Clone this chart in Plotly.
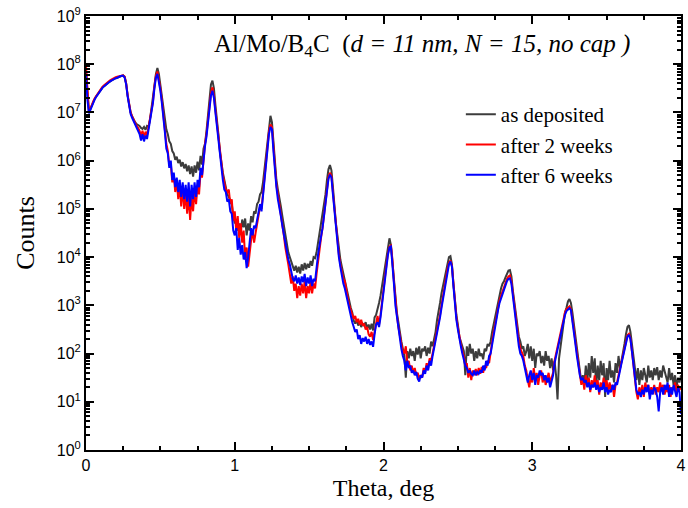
import plotly.graph_objects as go

# Grazing angle theta (deg), sampled every 0.01 deg from 0 to 4
theta = [round(i * 0.01, 2) for i in range(401)]

# log10(counts), one row per 0.1 deg
log_as_deposited = [
    7.85, 7.30, 7.00, 7.08, 7.16, 7.23, 7.29, 7.34, 7.39, 7.44,
    7.48, 7.51, 7.54, 7.57, 7.59, 7.62, 7.64, 7.66, 7.68, 7.69,
    7.71, 7.72, 7.73, 7.74, 7.76, 7.77, 7.74, 7.60, 7.35, 7.12,
    7.00, 6.92, 6.85, 6.80, 6.76, 6.74, 6.72, 6.68, 6.66, 6.70,
    6.64, 6.72, 6.70, 6.85, 7.05, 7.25, 7.55, 7.80, 7.92, 7.80,
    7.55, 7.30, 7.05, 6.85, 6.65, 6.55, 6.40, 6.35, 6.20, 6.15,
    6.02, 6.08, 5.95, 6.02, 5.88, 5.97, 5.84, 5.93, 5.78, 5.90,
    5.72, 5.88, 5.67, 5.90, 5.75, 5.98, 5.80, 6.10, 5.92, 6.25,
    6.35, 6.62, 6.95, 7.30, 7.58, 7.66, 7.50, 7.15, 6.90, 6.55,
    6.20, 5.95, 5.75, 5.60, 5.45, 5.30, 5.25, 5.15, 5.10, 4.85,
    4.70, 4.75, 4.55, 4.70, 4.50, 4.78, 4.62, 4.80, 4.45, 4.70,
    4.55, 4.85, 4.72, 4.95, 4.90, 5.10, 5.15, 5.30, 5.35, 5.55,
    5.85, 6.10, 6.45, 6.75, 6.93, 6.80, 6.35, 5.85, 5.60, 5.40,
    5.25, 5.05, 4.85, 4.65, 4.40, 4.25, 4.10, 4.00, 3.90, 3.78,
    3.72, 3.82, 3.68, 3.80, 3.66, 3.85, 3.72, 3.88, 3.75, 3.86,
    3.78, 3.92, 3.82, 4.00, 3.98, 4.10, 4.30, 4.45, 4.65, 4.85,
    5.05, 5.30, 5.60, 5.82, 5.91, 5.80, 5.45, 5.05, 4.70, 4.45,
    4.15, 3.95, 3.80, 3.65, 3.50, 3.40, 3.20, 3.05, 2.95, 2.85,
    2.68, 2.62, 2.70, 2.58, 2.66, 2.55, 2.62, 2.58, 2.65, 2.52,
    2.60, 2.50, 2.62, 2.48, 2.75, 2.80, 2.90, 3.05, 3.20, 3.40,
    3.60, 3.72, 3.95, 4.20, 4.39, 4.25, 3.85, 3.45, 3.10, 2.85,
    2.65, 2.40, 2.25, 2.10, 1.95, 1.50, 2.05, 1.90, 2.10, 1.95,
    2.05, 1.85, 2.12, 1.98, 2.15, 1.90, 2.10, 2.05, 2.15, 1.95,
    2.12, 2.00, 2.25, 2.15, 2.30, 2.45, 2.70, 2.85, 3.05, 3.25,
    3.40, 3.50, 3.65, 3.85, 4.00, 4.02, 3.85, 3.45, 3.05, 2.80,
    2.60, 2.35, 2.25, 2.15, 2.05, 1.55, 2.15, 1.95, 2.20, 2.00,
    2.10, 1.85, 2.05, 1.90, 2.10, 1.95, 2.00, 1.88, 2.10, 2.05,
    2.20, 2.15, 2.25, 2.45, 2.60, 2.80, 2.95, 3.10, 3.25, 3.35,
    3.45, 3.50, 3.58, 3.65, 3.72, 3.73, 3.60, 3.30, 3.05, 2.90,
    2.60, 2.35, 2.25, 2.10, 2.15, 1.95, 2.05, 2.20, 1.90, 2.15,
    1.85, 2.10, 1.70, 2.00, 1.95, 2.05, 1.80, 1.95, 1.75, 2.05,
    1.85, 1.95, 1.70, 1.90, 1.65, 1.85, 1.55, 1.05, 1.90, 2.15,
    2.45, 2.70, 2.85, 2.95, 3.08, 3.13, 3.05, 2.85, 2.60, 2.30,
    2.05, 1.80, 1.60, 1.40, 1.55, 1.35, 1.75, 1.40, 1.80, 1.50,
    1.95, 1.60, 1.90, 1.30, 1.75, 1.45, 1.85, 1.55, 1.80, 1.10,
    1.70, 1.45, 1.85, 1.50, 1.65, 1.40, 1.80, 1.60, 1.95, 1.70,
    1.85, 2.00, 2.20, 2.40, 2.55, 2.59, 2.45, 2.20, 1.90, 1.65,
    1.45, 1.70, 1.35, 1.65, 1.45, 1.70, 1.50, 1.40, 1.75, 1.50,
    1.65, 1.45, 1.70, 1.55, 1.72, 1.45, 1.65, 1.50, 1.75, 1.65,
    1.55, 1.40, 1.70, 1.45, 1.60, 1.35, 1.55, 1.30, 1.50, 1.40,
    1.55,
]

log_after_2_weeks = [
    7.95, 7.35, 7.00, 7.08, 7.17, 7.24, 7.30, 7.35, 7.40, 7.45,
    7.49, 7.53, 7.56, 7.59, 7.61, 7.64, 7.66, 7.68, 7.70, 7.71,
    7.73, 7.74, 7.75, 7.76, 7.77, 7.77, 7.74, 7.60, 7.36, 7.13,
    7.00, 6.92, 6.85, 6.78, 6.72, 6.68, 6.62, 6.52, 6.62, 6.48,
    6.60, 6.52, 6.70, 6.80, 7.02, 7.22, 7.55, 7.76, 7.85, 7.70,
    7.50, 7.25, 7.00, 6.65, 6.35, 6.20, 5.90, 5.95, 5.55, 5.70,
    5.35, 5.60, 5.20, 5.50, 5.05, 5.45, 5.00, 5.35, 4.90, 5.30,
    4.77, 5.25, 4.95, 5.40, 5.10, 5.50, 5.30, 5.75, 5.65, 6.10,
    6.35, 6.55, 6.80, 7.10, 7.40, 7.52, 7.35, 7.05, 6.75, 6.45,
    6.15, 5.85, 5.70, 5.55, 5.40, 5.35, 5.40, 5.10, 5.20, 4.75,
    4.95, 4.55, 4.85, 4.40, 4.70, 4.30, 4.55, 3.95, 4.20, 3.80,
    4.15, 4.35, 4.55, 4.30, 4.50, 4.70, 4.85, 5.05, 5.00, 5.30,
    5.65, 6.00, 6.35, 6.60, 6.75, 6.70, 6.30, 5.80, 5.50, 5.30,
    5.10, 4.95, 4.70, 4.45, 4.20, 4.05, 3.85, 3.65, 3.45, 3.60,
    3.30, 3.45, 3.15, 3.40, 3.20, 3.45, 3.25, 3.50, 3.15, 3.40,
    3.25, 3.50, 3.25, 3.45, 3.35, 3.65, 3.95, 4.20, 4.40, 4.60,
    4.85, 5.15, 5.45, 5.66, 5.75, 5.68, 5.35, 5.00, 4.60, 4.35,
    4.05, 3.85, 3.70, 3.55, 3.50, 3.30, 3.15, 3.00, 2.90, 2.80,
    2.72, 2.78, 2.65, 2.72, 2.60, 2.70, 2.58, 2.62, 2.50, 2.55,
    2.40, 2.35, 2.45, 2.28, 2.50, 2.62, 2.78, 2.60, 2.80, 3.10,
    3.35, 3.60, 3.85, 4.08, 4.22, 4.24, 3.95, 3.50, 3.10, 2.80,
    2.55, 2.35, 2.20, 2.05, 2.00, 2.15, 1.80, 1.85, 1.65, 1.75,
    1.60, 1.70, 1.55, 1.60, 1.48, 1.55, 1.50, 1.70, 1.62, 1.80,
    1.70, 1.90, 1.85, 2.00, 2.15, 2.35, 2.50, 2.65, 2.80, 3.00,
    3.20, 3.40, 3.58, 3.75, 3.88, 3.93, 3.82, 3.45, 3.00, 2.75,
    2.55, 2.35, 2.20, 2.05, 1.95, 1.75, 1.80, 1.50, 1.70, 1.45,
    1.65, 1.55, 1.68, 1.55, 1.70, 1.58, 1.72, 1.60, 1.75, 1.70,
    1.85, 1.80, 2.05, 2.25, 2.45, 2.60, 2.80, 2.95, 3.10, 3.20,
    3.30, 3.40, 3.47, 3.55, 3.60, 3.62, 3.50, 3.25, 2.95, 2.65,
    2.40, 2.25, 2.10, 2.00, 1.95, 1.75, 1.65, 1.45, 1.30, 1.55,
    1.40, 1.70, 1.45, 1.60, 1.35, 1.55, 1.65, 1.40, 1.55, 1.35,
    1.50, 1.60, 1.40, 1.50, 1.60, 1.85, 2.00, 2.15, 2.30, 2.45,
    2.60, 2.75, 2.85, 2.92, 2.96, 2.98, 2.92, 2.75, 2.50, 2.25,
    2.00, 1.75, 1.55, 1.35, 1.50, 1.25, 1.55, 1.35, 1.50, 1.20,
    1.45, 1.30, 1.55, 1.30, 1.45, 1.15, 1.40, 1.25, 1.50, 1.30,
    1.45, 1.20, 1.40, 1.25, 1.35, 1.10, 1.35, 1.40, 1.55, 1.70,
    1.85, 2.00, 2.15, 2.28, 2.38, 2.41, 2.32, 2.05, 1.75, 1.45,
    1.20, 1.05, 1.30, 1.15, 1.35, 1.10, 1.40, 1.25, 1.35, 1.15,
    1.30, 1.20, 1.35, 1.15, 1.30, 1.20, 1.40, 1.25, 1.35, 1.15,
    1.30, 1.20, 1.35, 1.10, 1.30, 1.25, 1.40, 1.20, 1.35, 1.25,
    1.30,
]

log_after_6_weeks = [
    7.80, 7.25, 6.98, 7.06, 7.15, 7.22, 7.28, 7.33, 7.38, 7.43,
    7.47, 7.51, 7.54, 7.57, 7.60, 7.62, 7.64, 7.66, 7.68, 7.70,
    7.71, 7.72, 7.74, 7.75, 7.76, 7.76, 7.72, 7.58, 7.33, 7.10,
    6.97, 6.89, 6.82, 6.76, 6.70, 6.64, 6.55, 6.42, 6.55, 6.40,
    6.52, 6.45, 6.65, 6.75, 7.00, 7.20, 7.50, 7.72, 7.80, 7.65,
    7.45, 7.20, 6.95, 6.60, 6.25, 6.15, 5.85, 6.00, 5.60, 5.75,
    5.45, 5.65, 5.35, 5.60, 5.25, 5.55, 5.20, 5.50, 5.15, 5.55,
    5.05, 5.50, 5.20, 5.55, 5.25, 5.60, 5.45, 5.85, 5.70, 6.10,
    6.30, 6.50, 6.75, 7.05, 7.35, 7.45, 7.30, 7.00, 6.70, 6.35,
    6.05, 5.75, 5.60, 5.40, 5.35, 5.15, 5.20, 4.95, 4.90, 4.55,
    4.45, 4.60, 4.15, 4.40, 4.05, 4.25, 3.95, 4.10, 3.77, 4.00,
    4.25, 4.60, 4.45, 4.65, 4.60, 4.75, 4.90, 5.10, 4.95, 5.25,
    5.60, 5.95, 6.30, 6.55, 6.70, 6.65, 6.20, 5.70, 5.45, 5.20,
    5.05, 4.85, 4.65, 4.45, 4.25, 4.10, 3.95, 3.85, 3.70, 3.55,
    3.50, 3.62, 3.45, 3.58, 3.42, 3.60, 3.48, 3.65, 3.40, 3.58,
    3.45, 3.62, 3.40, 3.55, 3.50, 3.80, 4.05, 4.25, 4.40, 4.60,
    4.85, 5.10, 5.40, 5.62, 5.71, 5.65, 5.30, 4.95, 4.55, 4.30,
    4.00, 3.80, 3.60, 3.45, 3.35, 3.20, 3.05, 2.90, 2.80, 2.65,
    2.55, 2.45, 2.50, 2.30, 2.38, 2.20, 2.32, 2.25, 2.35, 2.20,
    2.30, 2.18, 2.25, 2.14, 2.40, 2.60, 2.65, 2.55, 2.75, 3.05,
    3.30, 3.55, 3.80, 4.05, 4.20, 4.22, 3.90, 3.45, 3.00, 2.75,
    2.50, 2.30, 2.10, 1.95, 1.85, 1.65, 1.85, 1.70, 1.75, 1.60,
    1.65, 1.55, 1.62, 1.48, 1.42, 1.55, 1.50, 1.65, 1.58, 1.75,
    1.65, 1.85, 1.75, 1.95, 2.10, 2.30, 2.45, 2.60, 2.75, 2.95,
    3.15, 3.35, 3.55, 3.72, 3.85, 3.91, 3.80, 3.40, 2.95, 2.70,
    2.50, 2.30, 2.15, 2.00, 1.85, 1.75, 1.70, 1.60, 1.65, 1.58,
    1.55, 1.65, 1.55, 1.62, 1.58, 1.65, 1.60, 1.75, 1.65, 1.85,
    1.75, 1.95, 2.00, 2.20, 2.40, 2.55, 2.75, 2.90, 3.05, 3.15,
    3.25, 3.35, 3.42, 3.50, 3.55, 3.56, 3.45, 3.20, 2.90, 2.60,
    2.35, 2.15, 2.00, 1.95, 1.85, 1.70, 1.55, 1.40, 1.55, 1.65,
    1.45, 1.60, 1.35, 1.55, 1.50, 1.65, 1.55, 1.60, 1.45, 1.55,
    1.40, 1.50, 1.30, 1.45, 1.55, 1.80, 1.95, 2.10, 2.25, 2.40,
    2.55, 2.70, 2.80, 2.88, 2.92, 2.94, 2.90, 2.70, 2.45, 2.20,
    1.95, 1.70, 1.55, 1.45, 1.50, 1.40, 1.45, 1.30, 1.40, 1.25,
    1.35, 1.30, 1.40, 1.25, 1.35, 1.20, 1.30, 1.25, 1.40, 1.20,
    1.30, 1.15, 1.25, 1.20, 1.35, 1.25, 1.40, 1.35, 1.55, 1.65,
    1.80, 1.95, 2.10, 2.25, 2.35, 2.39, 2.30, 2.05, 1.75, 1.45,
    1.25, 1.15, 1.20, 1.10, 1.25, 1.15, 1.30, 1.20, 1.35, 1.05,
    1.25, 1.15, 1.30, 1.25, 1.10, 0.80, 1.20, 1.30, 1.15, 1.35,
    1.25, 1.40, 1.10, 1.30, 1.15, 1.35, 1.25, 1.10, 1.30, 1.20,
    0.75,
]

series_names = ["as deposited", "after 2 weeks", "after 6 weeks"]
series_colors = ["#3c3c3c", "#ff0000", "#0000ff"]
y_decades = list(range(0, 10))
y_tick_labels = ["10<sup>%d</sup>" % k for k in y_decades]

series_logs = [log_as_deposited, log_after_2_weeks, log_after_6_weeks]

fig = go.Figure()
for name, logs, color in zip(series_names, series_logs, series_colors):
    fig.add_trace(go.Scatter(
        x=theta, y=[10 ** v for v in logs], mode="lines", name=name,
        line=dict(color=color, width=2),
    ))

serif = "Liberation Serif"
sans = "Liberation Sans"

fig.update_layout(
    width=688, height=508,
    margin=dict(l=86, r=2, t=16, b=58),
    plot_bgcolor="white", paper_bgcolor="white",
    font=dict(family=sans, size=16, color="black"),
    showlegend=True,
    legend=dict(
        x=0.63, y=0.82, xanchor="left", yanchor="top",
        font=dict(family=serif, size=21, color="black"),
        bgcolor="rgba(0,0,0,0)", borderwidth=0,
    ),
    annotations=[dict(
        x=0.212, y=0.933, xref="paper", yref="paper",
        xanchor="left", yanchor="middle", showarrow=False,
        text="Al/Mo/B<sub>4</sub>C  (<i>d = 11 nm, N = 15, no cap )</i>",
        font=dict(family=serif, size=25, color="black"),
    )],
)

fig.update_xaxes(
    range=[0, 4], tick0=0, dtick=1,
    ticks="inside", ticklen=8, tickwidth=1.5, tickcolor="black",
    showline=True, linewidth=2, linecolor="black", mirror="ticks",
    showgrid=False, zeroline=False, ticklabeloverflow="allow",
    minor=dict(dtick=0.25, tick0=0, ticks="inside", ticklen=4, tickwidth=1.5,
               tickcolor="black", showgrid=False),
    tickfont=dict(family=sans, size=16),
    title=dict(text="Theta, deg", font=dict(family=serif, size=24), standoff=6),
)

fig.update_yaxes(
    type="log", range=[0, 9],
    tickmode="array", tickvals=[10 ** k for k in y_decades], ticktext=y_tick_labels,
    ticks="inside", ticklen=8, tickwidth=1.5, tickcolor="black",
    showline=True, linewidth=2, linecolor="black", mirror="ticks",
    showgrid=False, zeroline=False,
    minor=dict(tickmode="array",
               tickvals=[m * 10 ** k for k in range(9) for m in range(2, 10)],
               ticks="inside", ticklen=4, tickwidth=1.5, tickcolor="black",
               showgrid=False),
    tickfont=dict(family=sans, size=16),
    title=dict(text="Counts", font=dict(family=serif, size=26), standoff=15),
)

fig.write_html("out.html")
